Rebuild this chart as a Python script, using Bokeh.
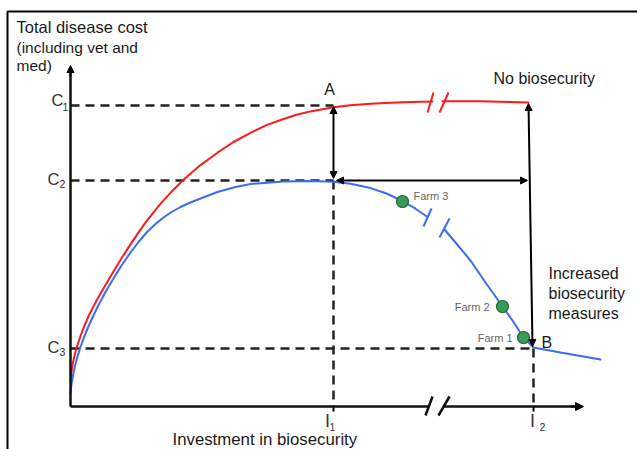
from bokeh.plotting import figure
from bokeh.models import Range1d, Arrow, NormalHead
from bokeh.core.properties import value
from bokeh.embed import file_html
from bokeh.resources import INLINE

# ---- data (investment on x, total disease cost on y; arbitrary units) ----
red_x1 = [0, 1, 2.5, 4.5, 6, 10, 14, 18, 22, 27, 33, 41, 50, 58, 67, 75, 83, 91, 100, 113, 130,
          147, 163, 180, 196, 213, 226, 240, 263, 280, 300, 320, 340, 362]
red_y1 = [26, 35, 44, 53, 58.5, 70.5, 81, 90.2, 98.2, 107.4, 117.9, 131.7, 146.5, 159.1, 172.6,
          183.8, 194.2, 203.8, 213.7, 226.7, 241.4, 253.8, 264.5, 273.7, 281.4, 287.5, 291.7,
          295.1, 299.2, 301.3, 302.8, 303.8, 304.5, 305]
red_x2 = [372, 410, 458]
red_y2 = [305.2, 305.2, 304]

blue_x1 = [0, 1, 2.5, 4.5, 7, 10, 14, 19, 27, 35, 43, 51, 60, 68, 77, 85, 93, 101, 110, 120, 130,
           147, 165, 180, 213, 240, 263, 280, 300, 316, 332, 345, 357]
blue_y1 = [14, 22, 31, 40.5, 50, 59.5, 70.5, 82.5, 99.5, 114.5, 128, 141, 154, 164.5, 175, 182.5,
           189, 194.5, 199.5, 204, 208, 214.5, 219.5, 222.5, 225, 225.5, 224.8, 222.8, 218.4, 213,
           205.5, 197.8, 189.5]
blue_x2 = [374, 385, 400, 415, 425, 432, 442, 453, 463, 490, 530]
blue_y2 = [177, 164, 146, 124, 110, 100, 86, 69, 59, 54, 47]

farm_names = ["Farm 1", "Farm 2", "Farm 3"]
farm_x = [453, 432, 332]
farm_y = [69, 100, 205]

cost_levels = [301, 226, 58]          # C1, C2, C3
cost_labels = ["1", "2", "3"]
invest_levels = [263, 463]            # I1, I2
invest_labels = ["1", "2"]

FONT = value("Liberation Sans")
INK = "#1a1a1a"

p = figure(width=637, height=449, output_backend="svg", toolbar_location=None,
           x_range=Range1d(-70, 567), y_range=Range1d(-43, 406),
           x_axis_type=None, y_axis_type=None, min_border=0,
           outline_line_color=None, background_fill_color="white",
           border_fill_color="white")
p.grid.visible = False

C1, C2, C3 = cost_levels
I1, I2 = invest_levels

# outer frame
p.line([-63, -63, 567], [-43, 395, 395], line_color="black", line_width=2)

# dashed guide lines
dash = dict(line_color="#222222", line_width=2.5, line_dash="9 6")
p.line([0, I1], [C1, C1], **dash)
p.line([0, I1], [C2, C2], **dash)
p.line([0, I2], [C3, C3], **dash)
p.line([I1, I1], [C2, 0], **dash)
p.line([I2, I2], [C3, 0], **dash)
p.line([I1, I1], [0, -5], line_color="black", line_width=2)
p.line([I2, I2], [0, -5], line_color="black", line_width=2)

def arr(x0, y0, x1, y1, both=True, size=7, lw=2):
    p.add_layout(Arrow(
        start=NormalHead(size=size, fill_color="black", line_color="black") if both else None,
        end=NormalHead(size=size, fill_color="black", line_color="black"),
        x_start=x0, y_start=y0, x_end=x1, y_end=y1,
        line_color="black", line_width=lw))

arr(I1, C2 + 2, I1, C1 - 1)                 # A vertical
arr(I1 + 3, C2, I1 + 194, C2)               # horizontal
arr(I2 - 1, C3 + 2, I2 - 5, C1 + 2)         # I2 vertical

# curves
cs = dict(line_width=2, line_join="round", line_cap="round")
p.line(red_x1, red_y1, line_color="#ff1a1a", **cs)
p.line(red_x2, red_y2, line_color="#ff1a1a", **cs)
p.line(blue_x1, blue_y1, line_color="#3a6cf5", **cs)
p.line(blue_x2, blue_y2, line_color="#3a6cf5", **cs)

# break marks on curves
p.segment(x0=[357, 369], y0=[294, 294], x1=[363, 378], y1=[314, 314], line_color="#ff1a1a", line_width=2)
p.segment(x0=[353, 369], y0=[180, 169], x1=[361, 379], y1=[198, 188], line_color="#3a6cf5", line_width=2)

# axes
p.line([0, 0], [0, 335], line_color="#111111", line_width=2.5)
arr(0, 330, 0, 341, both=False, size=7)
p.line([0, 358], [0, 0], line_color="#111111", line_width=2.5)
p.line([373, 505], [0, 0], line_color="#111111", line_width=2.5)
arr(500, 0, 513, 0, both=False, size=8)
p.segment(x0=[355, 368], y0=[-9, -9], x1=[362, 379], y1=[10, 10], line_color="#111111", line_width=2.5)

# farm points
p.scatter(farm_x, farm_y, size=12, fill_color="#3a9a5a", line_color="#1f6b3a", line_width=1.2)

def txt(x, y, s, size="16px", color=INK, align="left"):
    p.text(x=[x], y=[y], text=[s], text_font=FONT, text_font_size=value(size),
           text_color=color, text_align=align, text_baseline="middle")

txt(343, 211, farm_names[2], "11px", "#666666")
txt(419, 100, farm_names[1], "11px", "#666666", "right")
txt(442, 69, farm_names[0], "11px", "#666666", "right")

txt(-54, 380, "Total disease cost", "16.5px")
txt(-54, 359, "(including vet and", "15.5px")
txt(-54, 341, "med)", "15.5px")
txt(423, 328, "No biosecurity", "16px")
txt(259, 317, "A", "16px", align="center")
txt(471, 64, "B", "16px")
txt(478, 133, "Increased", "16px")
txt(478, 113, "biosecurity", "16px")
txt(478, 93, "measures", "16px")
txt(102, -33, "Investment in biosecurity", "16.8px")

# C labels
c_pos = [(-13, -5), (-17, -8), (-17, -8)]
for lvl, lab, (cx, sx) in zip(cost_levels, cost_labels, c_pos):
    txt(cx, lvl + 6 if lab == "1" else lvl + 2, "C", "16.5px", "#333333", "center")
    txt(sx, lvl - 1 if lab == "1" else lvl - 3, lab, "10.5px", "#333333", "center")

# I labels
i_pos = [(-6, -1), (-1, 9)]
for lvl, lab, (ix, sx) in zip(invest_levels, invest_labels, i_pos):
    txt(lvl + ix, -14, "I", "18px", "#333333", "center")
    txt(lvl + sx, -20, lab, "10.5px", "#333333", "center")

open("out.html", "w").write(file_html(p, INLINE))
